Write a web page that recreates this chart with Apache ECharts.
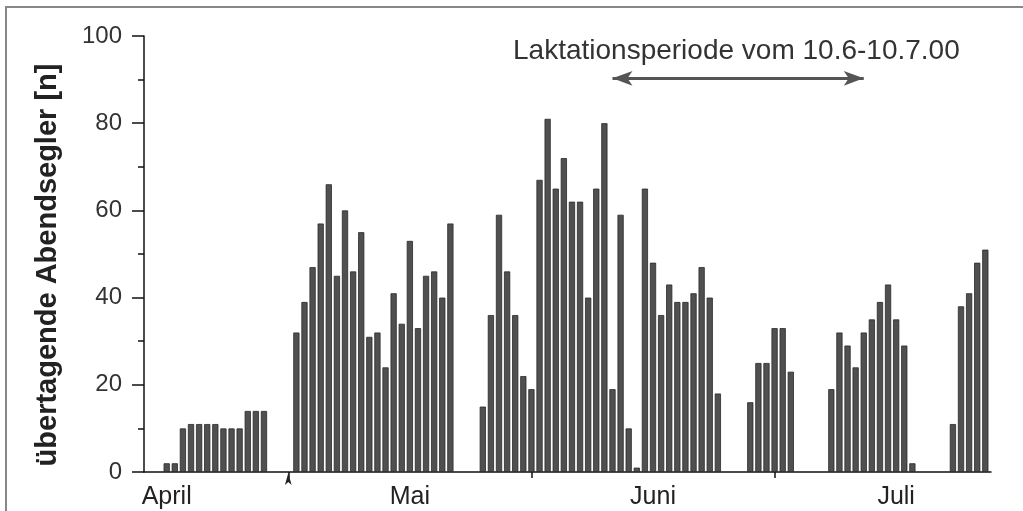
<!DOCTYPE html>
<html>
<head>
<meta charset="utf-8">
<script src="https://cdn.jsdelivr.net/npm/echarts@6/dist/echarts.min.js"></script>
<style>
  html, body { margin: 0; padding: 0; background: #fff; }
  #chart { width: 1023px; height: 511px; }
</style>
</head>
<body>
<div id="chart"></div>
<script>
// Tage ab Mitte April (Index 0), null = kein Wert erfasst
const counts = [
  2, 2, 10, 11, 11, 11, 11, 10, 10, 10, 14, 14, 14,
  null, null, null,
  32, 39, 47, 57, 66, 45, 60, 46, 55, 31, 32, 24, 41, 34, 53, 33, 45, 46, 40, 57,
  null, null, null,
  15, 36, 59, 46, 36, 22, 19, 67, 81, 65, 72, 62, 62, 40, 65, 80, 19, 59, 10, 1,
  65, 48, 36, 43, 39, 39, 41, 47, 40, 18,
  null, null, null,
  16, 25, 25, 33, 33, 23,
  null, null, null, null,
  19, 32, 29, 24, 32, 35, 39, 43, 35, 29, 2,
  null, null, null, null,
  11, 38, 41, 48, 51
];
const monthNames = ['April', 'Mai', 'Juni', 'Juli'];
const monthLabelDays = [0, 30, 60, 90];
const monthTickDays = [15, 45, 75];
const lactationDays = [55, 86];
const yTicks = [0, 20, 40, 60, 80, 100];

const chart = echarts.init(document.getElementById('chart'));
const font = '"Liberation Sans", Arial, sans-serif';

const barData = counts.map((v, i) => [i, v]).filter(d => d[1] !== null);

chart.setOption({
  animation: false,
  title: {
    text: 'Laktationsperiode vom 10.6-10.7.00',
    left: 513,
    top: 37,
    padding: 0,
    textStyle: { fontFamily: font, fontSize: 28, fontWeight: 'normal', color: '#333' }
  },
  graphic: [{
    type: 'rect',
    shape: { x: 6, y: 7, width: 1040, height: 530 },
    style: { fill: 'none', stroke: '#888', lineWidth: 2 }
  }],
  grid: { left: 144, right: 32, top: 36, bottom: 39 },
  xAxis: {
    type: 'value',
    min: -2.8,
    max: 101.7,
    splitLine: { show: false },
    axisLine: { lineStyle: { color: '#111', width: 1.5 } },
    axisTick: {
      customValues: monthTickDays,
      length: 6,
      lineStyle: { color: '#111', width: 1.5 }
    },
    axisLabel: {
      customValues: monthLabelDays,
      formatter: v => monthNames[monthLabelDays.indexOf(v)] || '',
      margin: 13,
      fontFamily: font,
      fontSize: 25,
      color: '#222'
    }
  },
  yAxis: {
    type: 'value',
    min: 0,
    max: 100,
    interval: 20,
    name: 'übertagende Abendsegler [n]',
    nameLocation: 'middle',
    nameGap: 82,
    nameTextStyle: {
      fontFamily: font, fontSize: 29, fontWeight: 'bold', color: '#222',
      padding: [0, 22, 0, 0]
    },
    splitLine: { show: false },
    axisLine: { show: true, onZero: false, lineStyle: { color: '#111', width: 1.5 } },
    axisTick: { show: true, length: 12, lineStyle: { color: '#111', width: 1.5 } },
    minorTick: { show: true, splitNumber: 2, length: 6, lineStyle: { color: '#111', width: 1.5 } },
    axisLabel: {
      margin: 22,
      fontFamily: font,
      fontSize: 24,
      color: '#333',
      formatter: v => (yTicks.indexOf(v) >= 0 ? String(v) : '')
    }
  },
  series: [{
    type: 'bar',
    data: barData,
    barWidth: 6.2,
    itemStyle: { color: '#505050', borderColor: '#2a2a2a', borderWidth: 0.8 },
    markLine: {
      silent: true,
      symbol: ['arrow', 'arrow'],
      symbolSize: [11, 20],
      label: { show: false },
      lineStyle: { color: '#555', width: 3, type: 'solid' },
      data: [[{ coord: [lactationDays[0], 90.3] }, { coord: [lactationDays[1], 90.3] }]]
    },
    markPoint: {
      silent: true,
      symbol: 'arrow',
      symbolSize: [5, 12],
      symbolOffset: [0, 1],
      label: { show: false },
      itemStyle: { color: '#222' },
      data: [{ coord: [monthTickDays[0], 0] }]
    }
  }]
});
</script>
</body>
</html>
